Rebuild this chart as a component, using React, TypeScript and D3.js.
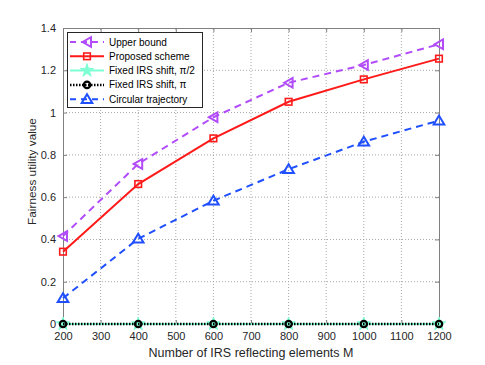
import React, { useEffect, useRef } from 'react';
import * as d3 from 'd3';

const elements = [200, 400, 600, 800, 1000, 1200];
const upperBound = [0.416, 0.757, 0.978, 1.141, 1.225, 1.323];
const proposed = [0.342, 0.662, 0.878, 1.051, 1.157, 1.255];
const fixedHalfPi = [0, 0, 0, 0, 0, 0];
const fixedPi = [0, 0, 0, 0, 0, 0];
const circular = [0.122, 0.403, 0.583, 0.732, 0.862, 0.962];
const xTicks = [200, 300, 400, 500, 600, 700, 800, 900, 1000, 1100, 1200];
const yTicks = [0, 0.2, 0.4, 0.6, 0.8, 1, 1.2, 1.4];

const W = 485;
const H = 365;
const margin = { top: 28, right: 46, bottom: 41, left: 63 };
const FONT = '"Liberation Sans", Arial, sans-serif';

type Series = {
  name: string;
  values: number[];
  color: string;
  dash: string | null;
  width: number;
  marker: 'left' | 'square' | 'star' | 'circle' | 'up';
};

const series: Series[] = [
  { name: 'Upper bound', values: upperBound, color: '#b24cfb', dash: '7,5', width: 2, marker: 'left' },
  { name: 'Proposed scheme', values: proposed, color: '#ff1a1a', dash: null, width: 2, marker: 'square' },
  { name: 'Fixed IRS shift, \u03c0/2', values: fixedHalfPi, color: '#7fffd4', dash: null, width: 2, marker: 'star' },
  { name: 'Fixed IRS shift, \u03c0', values: fixedPi, color: '#000000', dash: '1.5,1.5', width: 2.5, marker: 'circle' },
  { name: 'Circular trajectory', values: circular, color: '#1f4fff', dash: '7,5', width: 2, marker: 'up' },
];

const drawMarker = (g: d3.Selection<SVGGElement, unknown, null, undefined>, s: Series, cx: number, cy: number) => {
  if (s.marker === 'left') {
    g.append('path')
      .attr('d', `M${cx - 4.5},${cy} L${cx + 4},${cy - 4.8} L${cx + 4},${cy + 4.8} Z`)
      .attr('fill', 'none').attr('stroke', s.color).attr('stroke-width', 2);
  } else if (s.marker === 'up') {
    g.append('path')
      .attr('d', `M${cx},${cy - 5} L${cx - 5.3},${cy + 3.8} L${cx + 5.3},${cy + 3.8} Z`)
      .attr('fill', 'none').attr('stroke', s.color).attr('stroke-width', 2);
  } else if (s.marker === 'square') {
    g.append('rect')
      .attr('x', cx - 3.3).attr('y', cy - 3.3).attr('width', 6.6).attr('height', 6.6)
      .attr('fill', 'none').attr('stroke', s.color).attr('stroke-width', 1.6);
  } else if (s.marker === 'star') {
    g.append('path')
      .attr('d', d3.symbol().type(d3.symbolStar).size(55)())
      .attr('transform', `translate(${cx},${cy})`)
      .attr('fill', s.color).attr('stroke', s.color).attr('stroke-width', 1);
  } else {
    g.append('circle')
      .attr('cx', cx).attr('cy', cy).attr('r', 3.2)
      .attr('fill', 'none').attr('stroke', s.color).attr('stroke-width', 2.2);
  }
};

const App = () => {
  const ref = useRef<SVGSVGElement>(null);

  useEffect(() => {
    const svg = d3.select(ref.current);
    svg.selectAll('*').remove();

    const x = d3.scaleLinear().domain([200, 1200]).range([margin.left, W - margin.right]);
    const y = d3.scaleLinear().domain([0, 1.4]).range([H - margin.bottom, margin.top]);

    svg.append('rect').attr('width', W).attr('height', H).attr('fill', '#fff');

    // grid
    const grid = svg.append('g');
    xTicks.slice(1, -1).forEach(t => {
      grid.append('line')
        .attr('x1', x(t)).attr('x2', x(t)).attr('y1', y(0)).attr('y2', y(1.4))
        .attr('stroke', '#a8a8a8').attr('stroke-width', 1).attr('stroke-dasharray', '1,2');
    });
    yTicks.slice(1, -1).forEach(t => {
      grid.append('line')
        .attr('x1', x(200)).attr('x2', x(1200)).attr('y1', y(t)).attr('y2', y(t))
        .attr('stroke', '#a8a8a8').attr('stroke-width', 1).attr('stroke-dasharray', '1,2');
    });

    // axes
    const xAxis = svg.append('g')
      .attr('transform', `translate(0,${y(0)})`)
      .call(d3.axisBottom(x).tickValues(xTicks).tickSizeInner(-4).tickSizeOuter(0).tickPadding(8).tickFormat(d3.format('d')));
    const yAxis = svg.append('g')
      .attr('transform', `translate(${x(200)},0)`)
      .call(d3.axisLeft(y).tickValues(yTicks).tickSizeInner(-4).tickSizeOuter(0).tickPadding(7).tickFormat(d => d3.format('~g')(d as number)));
    const xTop = svg.append('g')
      .attr('transform', `translate(0,${y(1.4)})`)
      .call(d3.axisTop(x).tickValues(xTicks).tickSizeInner(-4).tickSizeOuter(0).tickFormat(() => ''));
    const yRight = svg.append('g')
      .attr('transform', `translate(${x(1200)},0)`)
      .call(d3.axisRight(y).tickValues(yTicks).tickSizeInner(-4).tickSizeOuter(0).tickFormat(() => ''));
    [xAxis, yAxis, xTop, yRight].forEach(a => {
      a.selectAll('path').attr('stroke', '#808080').attr('stroke-width', 1);
      a.selectAll('line').attr('stroke', '#808080');
      a.selectAll('text').attr('fill', '#262626').style('font-family', FONT).style('font-size', '11px');
    });

    // series lines
    const plot = svg.append('g');
    series.forEach(s => {
      const line = d3.line<number>().x((_, i) => x(elements[i])).y(d => y(d));
      plot.append('path')
        .datum(s.values)
        .attr('d', line)
        .attr('fill', 'none')
        .attr('stroke', s.color)
        .attr('stroke-width', s.width)
        .attr('stroke-dasharray', s.dash);
      const mg = plot.append('g');
      s.values.forEach((v, i) => drawMarker(mg, s, x(elements[i]), y(v)));
    });

    // labels
    svg.append('text')
      .attr('x', (x(200) + x(1200)) / 2).attr('y', 357)
      .attr('text-anchor', 'middle').attr('fill', '#262626')
      .style('font-family', FONT).style('font-size', '12.5px')
      .text('Number of IRS reflecting elements M');
    svg.append('text')
      .attr('transform', `translate(35.5,171.5) rotate(-90)`)
      .attr('text-anchor', 'middle').attr('fill', '#262626')
      .style('font-family', FONT).style('font-size', '11.8px')
      .text('Fairness utility value');

    // legend
    const lg = svg.append('g');
    lg.append('rect')
      .attr('x', 67.5).attr('y', 32.5).attr('width', 135).attr('height', 75)
      .attr('fill', '#fff').attr('stroke', '#262626').attr('stroke-width', 1);
    series.forEach((s, i) => {
      const cy = 42 + i * 14.3;
      lg.append('line')
        .attr('x1', 70).attr('x2', 104).attr('y1', cy).attr('y2', cy)
        .attr('stroke', s.color).attr('stroke-width', s.width)
        .attr('stroke-dasharray', s.dash === '7,5' ? '6,5' : s.dash);
      const mg = lg.append('g');
      drawMarker(mg, s, 87, cy);
      lg.append('text')
        .attr('x', 109).attr('y', cy).attr('dy', '0.35em')
        .attr('fill', '#000')
        .style('font-family', FONT).style('font-size', '10px')
        .text(s.name);
    });
  }, []);

  return <svg ref={ref} width={W} height={H} style={{ position: 'absolute', left: 0, top: 0 }} />;
};

export default App;
